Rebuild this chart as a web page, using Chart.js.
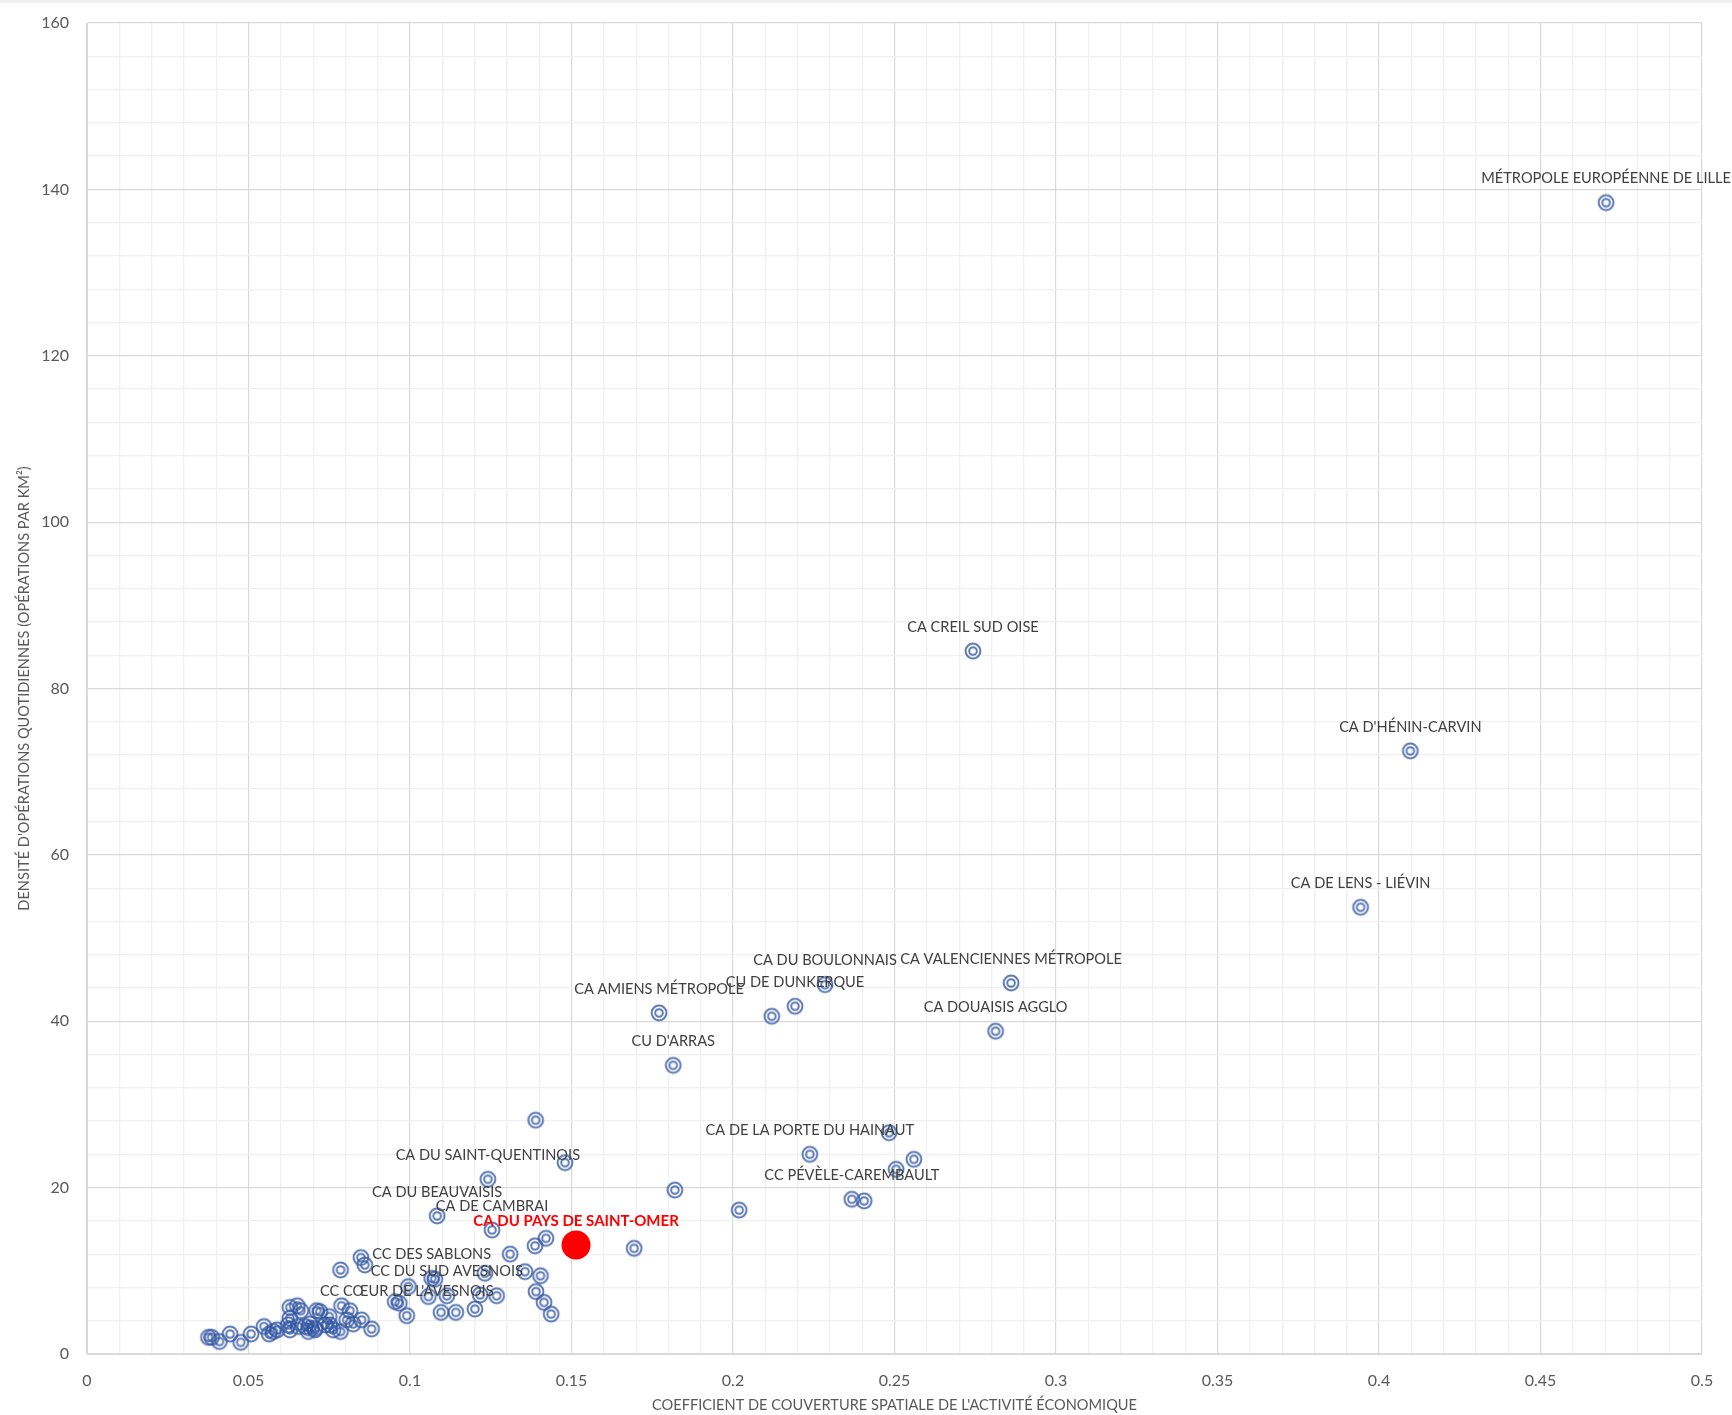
<!DOCTYPE html>
<html>
<head>
<meta charset="utf-8">
<script src="https://cdn.jsdelivr.net/npm/chart.js@4"></script>
<style>
  html, body { margin: 0; padding: 0; background: #fff; }
  canvas { display: block; }
</style>
</head>
<body>
<canvas id="chart" width="1732" height="1415"></canvas>
<script>
// ── Data ─────────────────────────────────────────────────
// x: coefficient de couverture spatiale, y: densité (opérations / km²)
var coverage = [
  0.4703, 0.2743, 0.4097, 0.3943, 0.2861, 0.2285, 0.2192, 0.1771, 0.2813, 0.1815,
  0.2238, 0.2368, 0.1241, 0.1084, 0.1254, 0.1067, 0.1114, 0.0990,
  0.1389, 0.1480, 0.2483, 0.2560, 0.2505, 0.2406, 0.2120, 0.1820, 0.2019, 0.1694,
  0.1421, 0.1387, 0.1310, 0.0848, 0.0860, 0.0785, 0.1077, 0.1356, 0.1404, 0.1232,
  0.0995, 0.1390, 0.1057, 0.1217, 0.1268, 0.0954, 0.0967, 0.1415, 0.1096, 0.1142,
  0.1201, 0.1437,
  0.0376, 0.0386, 0.0410, 0.0443, 0.0476, 0.0508, 0.0548, 0.0564, 0.0577, 0.0589,
  0.0628, 0.0651, 0.0662, 0.0628, 0.0623, 0.0628, 0.0654, 0.0675, 0.0685, 0.0711,
  0.0706, 0.0721, 0.0750, 0.0788, 0.0814, 0.0690, 0.0706, 0.0737, 0.0752, 0.0762,
  0.0785, 0.0804, 0.0824, 0.0850, 0.0881
];
var density = [
  138.4, 84.5, 72.5, 53.7, 44.6, 44.4, 41.8, 41.0, 38.8, 34.7,
  24.0, 18.6, 21.0, 16.6, 14.9, 9.1, 7.0, 4.6,
  28.1, 23.0, 26.6, 23.4, 22.2, 18.4, 40.6, 19.7, 17.3, 12.7,
  13.9, 13.0, 12.0, 11.6, 10.7, 10.1, 9.0, 9.9, 9.4, 9.7,
  8.1, 7.5, 6.9, 7.1, 7.0, 6.3, 6.1, 6.2, 5.0, 5.0,
  5.4, 4.8,
  2.0, 2.0, 1.5, 2.4, 1.4, 2.4, 3.3, 2.4, 2.7, 2.9,
  5.6, 5.8, 5.2, 4.3, 3.5, 2.9, 3.3, 3.3, 2.7, 5.2,
  3.1, 5.1, 4.5, 5.8, 5.2, 3.6, 2.9, 3.5, 3.5, 2.9,
  2.7, 4.1, 3.6, 4.1, 3.0
];
var names = [
  "MÉTROPOLE EUROPÉENNE DE LILLE", "CA CREIL SUD OISE", "CA D'HÉNIN-CARVIN",
  "CA DE LENS - LIÉVIN", "CA VALENCIENNES MÉTROPOLE", "CA DU BOULONNAIS",
  "CU DE DUNKERQUE", "CA AMIENS MÉTROPOLE", "CA DOUAISIS AGGLO", "CU D'ARRAS",
  "CA DE LA PORTE DU HAINAUT", "CC PÉVÈLE-CAREMBAULT", "CA DU SAINT-QUENTINOIS",
  "CA DU BEAUVAISIS", "CA DE CAMBRAI", "CC DES SABLONS", "CC DU SUD AVESNOIS",
  "CC CŒUR DE L'AVESNOIS"
];

var highlightNames    = ["CA DU PAYS DE SAINT-OMER"];
var highlightCoverage = [0.1514];
var highlightDensity  = [13.1];

var xMajorTicks = [0, 0.05, 0.1, 0.15, 0.2, 0.25, 0.3, 0.35, 0.4, 0.45, 0.5];
var yMajorTicks = [0, 20, 40, 60, 80, 100, 120, 140, 160];

// ── Helpers ──────────────────────────────────────────────
function toPoints(xs, ys) {
  return xs.map(function(x, i) { return { x: x, y: ys[i] }; });
}

function isMajorX(v) {
  return xMajorTicks.some(function(t) { return Math.abs(t - v) < 1e-6; });
}
function isMajorY(v) {
  return yMajorTicks.indexOf(v) !== -1;
}

// double ring marker like the Excel one
function ringMarker() {
  var c = document.createElement("canvas");
  c.width = 22; c.height = 22;
  var g = c.getContext("2d");
  g.strokeStyle = "rgba(47,85,160,0.78)";
  g.lineWidth = 2;
  g.beginPath(); g.arc(11, 11, 7.4, 0, Math.PI * 2); g.stroke();
  g.beginPath(); g.arc(11, 11, 3.8, 0, Math.PI * 2); g.stroke();
  return c;
}

// point labels, drawn centered above each point
var pointLabels = {
  id: "pointLabels",
  afterDatasetsDraw: function(chart) {
    var ctx = chart.ctx;
    ctx.save();
    ctx.textAlign = "center";
    ctx.textBaseline = "middle";
    chart.data.datasets.forEach(function(ds, di) {
      if (!ds.pointNames) return;
      var meta = chart.getDatasetMeta(di);
      ctx.font = ds.labelFont;
      ctx.fillStyle = ds.labelColor;
      meta.data.forEach(function(el, i) {
        var txt = ds.pointNames[i];
        if (txt) ctx.fillText(txt, el.x, el.y - 24);
      });
    });
    ctx.restore();
  }
};

// thin grey strip along the top, as in the source sheet
var topStrip = {
  id: "topStrip",
  beforeDraw: function(chart) {
    var ctx = chart.ctx;
    ctx.save();
    ctx.fillStyle = "#f0f0f0";
    ctx.fillRect(0, 0, chart.width, 3);
    ctx.restore();
  }
};

var TICK_FONT  = { family: "Lato, 'Noto Sans', sans-serif", size: 16 };
var TITLE_FONT = { family: "Lato, 'Noto Sans', sans-serif", size: 14.6 };

new Chart(document.getElementById("chart"), {
  type: "scatter",
  data: {
    datasets: [
      {
        data: toPoints(highlightCoverage, highlightDensity),
        pointNames: highlightNames,
        labelFont: "bold 15px Lato, 'Noto Sans', sans-serif",
        labelColor: "#ff0000",
        pointRadius: 14.5,
        pointHoverRadius: 14.5,
        backgroundColor: "#ff0000",
        borderColor: "#ff0000",
        borderWidth: 0
      },
      {
        data: toPoints(coverage, density),
        pointNames: names,
        labelFont: "14.6px Lato, 'Noto Sans', sans-serif",
        labelColor: "#404040",
        pointStyle: ringMarker(),
        pointRadius: 10,
        pointHoverRadius: 10
      }
    ]
  },
  options: {
    responsive: false,
    devicePixelRatio: 1,
    animation: false,
    layout: { padding: { top: 23, right: 30, bottom: 0, left: 0 } },
    plugins: {
      legend: { display: false },
      tooltip: { enabled: false }
    },
    scales: {
      x: {
        type: "linear",
        min: 0,
        max: 0.5,
        afterFit: function(s) { s.height = 61; },
        border: { color: "#d9d9d9", width: 1 },
        grid: {
          drawTicks: true,
          tickLength: 17,
          tickColor: "rgba(0,0,0,0)",
          lineWidth: 1.2,
          color: function(c) { return c.tick && isMajorX(c.tick.value) ? "#d9d9d9" : "#f0f0f0"; }
        },
        ticks: {
          stepSize: 0.01,
          autoSkip: false,
          maxRotation: 0,
          padding: 0,
          color: "#595959",
          font: TICK_FONT,
          callback: function(v) { return isMajorX(v) ? String(Math.round(v * 100) / 100) : ""; }
        },
        title: {
          display: true,
          text: "COEFFICIENT DE COUVERTURE SPATIALE DE L'ACTIVITÉ ÉCONOMIQUE",
          color: "#595959",
          font: TITLE_FONT,
          padding: { top: 0, bottom: 1 }
        }
      },
      y: {
        type: "linear",
        min: 0,
        max: 160,
        afterFit: function(s) { s.width = 87; },
        border: { color: "#d9d9d9", width: 1 },
        grid: {
          drawTicks: true,
          tickLength: 18,
          tickColor: "rgba(0,0,0,0)",
          lineWidth: 1.2,
          color: function(c) { return c.tick && isMajorY(c.tick.value) ? "#d9d9d9" : "#f0f0f0"; }
        },
        ticks: {
          stepSize: 4,
          autoSkip: false,
          padding: 0,
          color: "#595959",
          font: TICK_FONT,
          callback: function(v) { return isMajorY(v) ? String(v) : ""; }
        },
        title: {
          display: true,
          text: "DENSITÉ D'OPÉRATIONS QUOTIDIENNES (OPÉRATIONS PAR KM²)",
          color: "#595959",
          font: TITLE_FONT,
          padding: { top: 16, bottom: 0 }
        }
      }
    }
  },
  plugins: [topStrip, pointLabels]
});
</script>
</body>
</html>
